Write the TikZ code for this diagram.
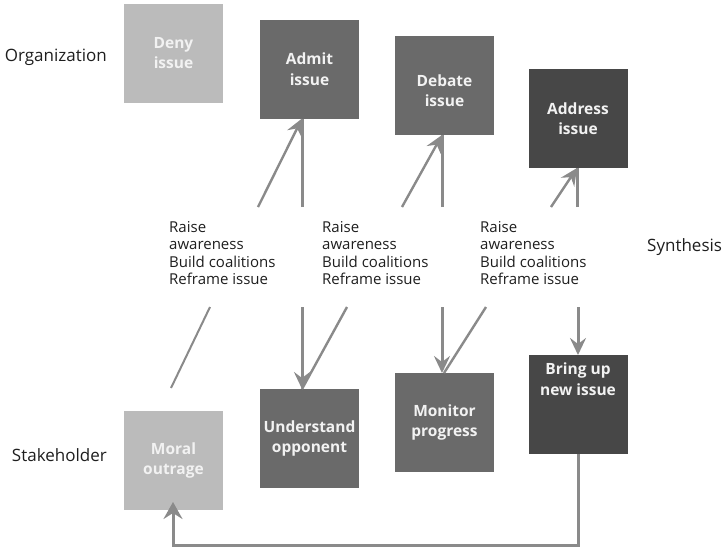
\documentclass[tikz,border=0pt]{standalone}
\usepackage{fontspec}
\setmainfont{Open Sans}
\usetikzlibrary{arrows.meta}
\definecolor{lightbox}{HTML}{BBBBBB}
\definecolor{midbox}{HTML}{6A6A6A}
\definecolor{darkbox}{HTML}{474747}
\definecolor{arrowgray}{HTML}{8A8A8A}
\definecolor{boxtext}{HTML}{F2F2F2}
\definecolor{labeltext}{HTML}{1E1E1E}
\begin{document}
\begin{tikzpicture}[x=1pt,y=-1pt,
  box/.style={minimum width=99pt,minimum height=99pt,inner sep=0pt,outer sep=0pt,
    text=boxtext,align=center,font=\fontsize{15.5}{20.5}\selectfont\bfseries},
  boxlabel/.style={inner sep=0pt,outer sep=0pt,text=boxtext,align=center,
    font=\fontsize{15.5}{20.5}\selectfont\bfseries},
  side/.style={text=labeltext,font=\fontsize{17}{20}\selectfont,inner sep=0pt},
  tactics/.style={text=labeltext,align=left,anchor=north west,inner sep=0pt,
    font=\fontsize{15}{17.5}\selectfont},
  conn/.style={draw=arrowgray,line width=3pt},
  diag/.style={draw=arrowgray,line width=2.4pt},
  tip/.style={-{Stealth[length=17pt,width=16pt,inset=6pt]}},
]
\useasboundingbox (0,0) rectangle (723,550);

% side labels
\node[side,anchor=east] (org) at (107,57) {Organization};
\node[side,anchor=east] (stake) at (107,455) {Stakeholder};
\node[side,anchor=west] (synth) at (647,247) {Synthesis};

% organization boxes
\node[box,fill=lightbox] (deny) at (173.5,53) {Deny\\issue};
\node[box,fill=midbox] (admit) at (309.5,69) {Admit\\issue};
\node[box,fill=midbox] (debate) at (444.5,85.5) {};
\node[boxlabel] (debatetxt) at ([yshift=-5pt]debate.center) {Debate\\issue};
\node[box,fill=darkbox] (address) at (578,118.5) {Address\\issue};

% stakeholder boxes
\node[box,fill=lightbox] (moral) at (173.5,460.5) {Moral\\outrage};
\node[box,fill=midbox] (underst) at (309.5,438.5) {Understand\\opponent};
\node[box,fill=midbox] (monitor) at (444.5,422.5) {Monitor\\progress};
\node[box,fill=darkbox] (bring) at (578,404.5) {};
\node[boxlabel,anchor=north] (bringtxt) at ([yshift=-8pt]bring.north) {Bring up\\new issue};

% tactic texts
\node[tactics] (t1) at (169,221) {Raise\\awareness\\Build coalitions\\Reframe issue};
\node[tactics] (t2) at (322,221) {Raise\\awareness\\Build coalitions\\Reframe issue};
\node[tactics] (t3) at (480,221) {Raise\\awareness\\Build coalitions\\Reframe issue};

% free ends of connectors
\coordinate (u1d) at (258,207);
\coordinate (u1v) at (302,207);
\coordinate (u2d) at (402,207);
\coordinate (u2v) at (442,207);
\coordinate (u3d) at (551,207);
\coordinate (u3v) at (577,207);
\coordinate (l0d) at (210,307);
\coordinate (l0e) at (171,388);
\coordinate (l1v) at (302,307);
\coordinate (l1d) at (347,307);
\coordinate (l2v) at (442,307);
\coordinate (l2d) at (486,307);
\coordinate (l3v) at (578,307);
\coordinate (loopA) at (578,545);
\coordinate (loopB) at (173,545);

% upward connectors
\draw[conn] (u1v) -- (u1v |- admit.south);
\draw[diag,tip] (u1d) -- (u1v |- admit.south);
\draw[conn] (u2v) -- (u2v |- debate.south);
\draw[diag,tip] (u2d) -- (u2v |- debate.south);
\draw[conn] (u3v) -- (u3v |- address.south);
\draw[diag,tip] (u3d) -- (u3v |- address.south);

% downward connectors
\draw[diag,line width=2pt] (l0d) -- (l0e);
\draw[diag] (l1d) -- (l1v |- underst.north);
\draw[conn,tip] (l1v) -- (l1v |- underst.north);
\draw[diag] (l2d) -- ([xshift=2pt]l2v |- monitor.north);
\draw[conn,tip] (l2v) -- (l2v |- monitor.north);
\draw[conn,tip] (l3v) -- (l3v |- bring.north);

% feedback loop
\draw[conn,-{Stealth[length=17pt,width=19pt,inset=6pt]}]
  (bring.south -| loopA) -- (loopA) -- (loopB) -- ([yshift=8pt]moral.south -| loopB);
\end{tikzpicture}
\end{document}
